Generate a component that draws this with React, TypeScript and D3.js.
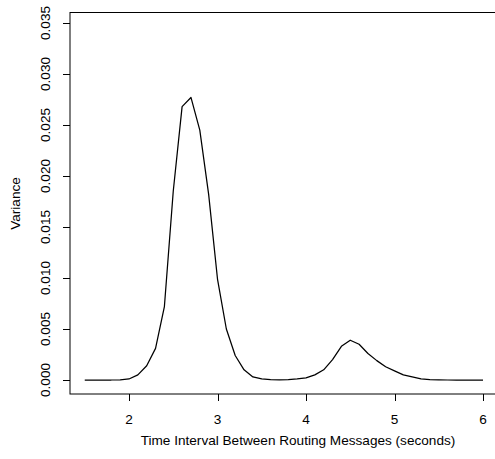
import React from "react";
import * as d3 from "d3";

// Sampled intervals (seconds) and the variance measured at each
const intervals = [
  1.5, 1.6, 1.7, 1.8, 1.9, 2.0, 2.1, 2.2, 2.3, 2.4, 2.5, 2.6, 2.7, 2.8, 2.9,
  3.0, 3.1, 3.2, 3.3, 3.4, 3.5, 3.6, 3.7, 3.8, 3.9, 4.0, 4.1, 4.2, 4.3, 4.4,
  4.5, 4.6, 4.7, 4.8, 4.9, 5.0, 5.1, 5.2, 5.3, 5.4, 5.5, 5.6, 5.7, 5.8, 5.9, 6.0,
];
const variance = [
  0, 0, 0, 0, 0.00002, 0.0001, 0.0005, 0.0014, 0.0031, 0.0072, 0.0185, 0.0268,
  0.0277, 0.0245, 0.0182, 0.0099, 0.005, 0.0024, 0.001, 0.0003, 0.0001, 0.00003,
  0.00002, 0.00004, 0.0001, 0.0002, 0.0005, 0.001, 0.002, 0.0033, 0.0039, 0.0035,
  0.0026, 0.0019, 0.0013, 0.0009, 0.0005, 0.0003, 0.0001, 0.00003, 0.00001, 0, 0,
  0, 0, 0,
];
const xTicks = [2, 3, 4, 5, 6];
const yTicks = [0, 0.005, 0.01, 0.015, 0.02, 0.025, 0.03, 0.035];

const xLabel = "Time Interval Between Routing Messages (seconds)";
const yLabel = "Variance";

export default function App() {
  const W = 495;
  const H = 459;
  const box = { left: 70, top: 12.5, right: 499, bottom: 394 };

  const x = d3.scaleLinear().domain([2, 6]).range([129, 483]);
  const y = d3.scaleLinear().domain([0, 0.035]).range([380, 23]);

  const line = d3
    .line<number>()
    .x((_, i) => x(intervals[i]))
    .y((d) => y(d));

  const font = "'Liberation Sans', Arial, Helvetica, sans-serif";
  const fs = 13.6;

  return (
    <svg
      width={W}
      height={H}
      style={{ position: "absolute", left: 0, top: 0, background: "#fff" }}
      fontFamily={font}
    >
      <rect x={0} y={0} width={W} height={H} fill="#fff" />
      {/* plot frame */}
      <rect
        x={box.left}
        y={box.top}
        width={box.right - box.left}
        height={box.bottom - box.top}
        fill="none"
        stroke="#000"
        strokeWidth={1}
      />
      {/* y axis */}
      {yTicks.map((t) => (
        <g key={t}>
          <line
            x1={box.left - 7}
            x2={box.left}
            y1={Math.round(y(t)) + 0.5}
            y2={Math.round(y(t)) + 0.5}
            stroke="#000"
          />
          <text
            transform={`translate(${50},${y(t)}) rotate(-90)`}
            textAnchor="middle"
            fontSize={fs}
            fill="#000"
          >
            {t.toFixed(3)}
          </text>
        </g>
      ))}
      {/* x axis */}
      {xTicks.map((t) => (
        <g key={t}>
          <line
            x1={Math.round(x(t)) + 0.5}
            x2={Math.round(x(t)) + 0.5}
            y1={box.bottom}
            y2={box.bottom + 7}
            stroke="#000"
          />
          <text x={x(t)} y={424} textAnchor="middle" fontSize={fs} fill="#000">
            {t}
          </text>
        </g>
      ))}
      <text x={298} y={445} textAnchor="middle" fontSize={fs} fill="#000">
        {xLabel}
      </text>
      <text
        transform={`translate(${20},${203.5}) rotate(-90)`}
        textAnchor="middle"
        fontSize={fs}
        fill="#000"
      >
        {yLabel}
      </text>
      <path
        d={line(variance) ?? ""}
        fill="none"
        stroke="#000"
        strokeWidth={1.25}
        strokeLinejoin="round"
      />
    </svg>
  );
}
